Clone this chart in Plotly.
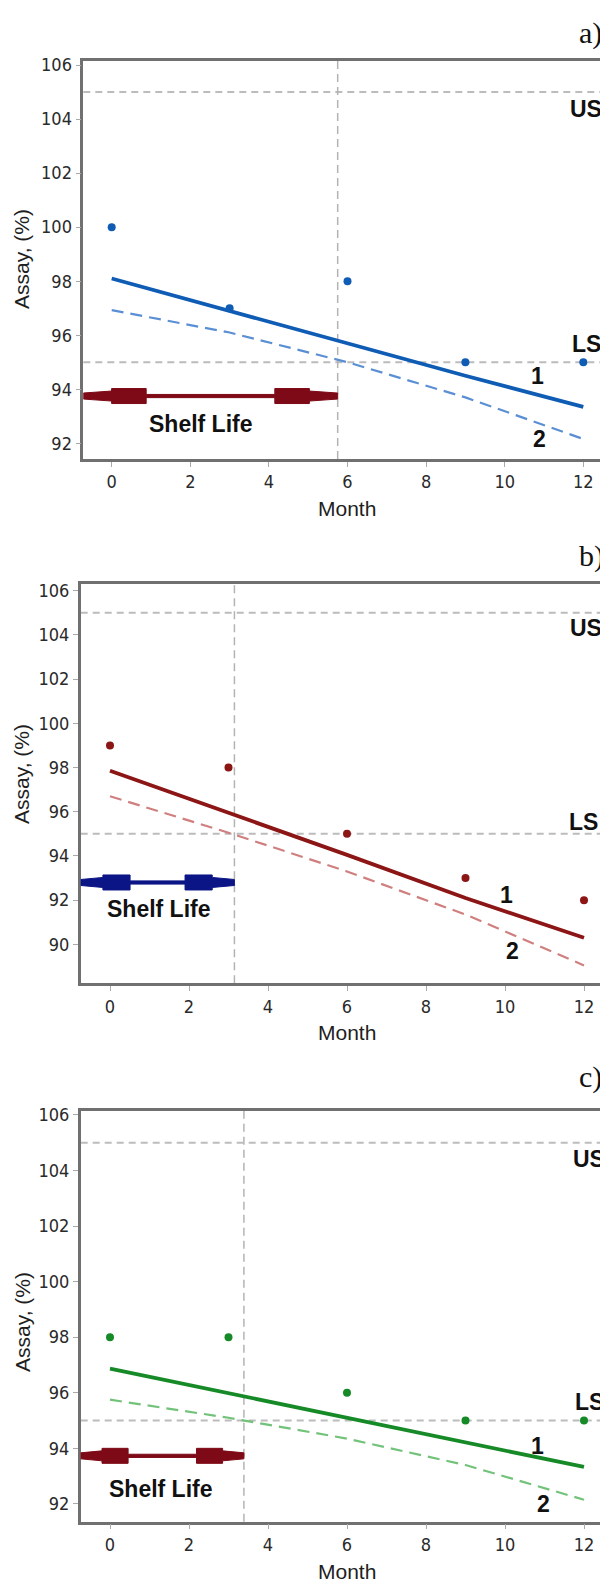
import plotly.graph_objects as go

# ---------------- data ----------------
months = [0, 3, 6, 9, 12]
assay_a = [100, 97, 98, 95, 95]
assay_b = [99, 98, 95, 93, 92]
assay_c = [98, 98, 96, 95, 95]

fit_a = [98.1, 96.9, 95.7, 94.5, 93.35]
fit_b = [97.85, 95.95, 94.05, 92.1, 90.3]
fit_c = [96.87, 95.98, 95.1, 94.2, 93.33]

lower_a = [96.93, 96.1, 95.0, 93.7, 92.16]
lower_b = [96.7, 95.05, 93.3, 91.35, 89.05]
lower_c = [95.75, 95.1, 94.35, 93.4, 92.15]

shelf_life = [5.75, 3.15, 3.39]
upper_spec = 105
lower_spec = 95

x_ticks = [0, 2, 4, 6, 8, 10, 12]
y_ticks_a = [92, 94, 96, 98, 100, 102, 104, 106]
y_ticks_b = [90, 92, 94, 96, 98, 100, 102, 104, 106]
y_ticks_c = [92, 94, 96, 98, 100, 102, 104, 106]
panel_labels = ["a)", "b)", "c)"]

# ---------------- styles / layout ----------------
PAGE_W, PAGE_H = 608, 1582
OFF = 8                      # default body margin of the html page
W, H = PAGE_W - OFF, PAGE_H - OFF

def px_x(p):
    return (p - OFF) / W

def px_y(p):
    return 1 - (p - OFF) / H

def xrange_from(left_px, zero_px, ppu):
    return [(left_px - zero_px) / ppu, (PAGE_W - zero_px) / ppu]

panels = [
    dict(assay=assay_a, fit=fit_a, lower=lower_a, yt=y_ticks_a, sl=shelf_life[0],
         color="#0f5cb5", dcolor="#5a8fd4", acolor="#7d0a16",
         left=83.3, top=60.7, bottom=459, xr=xrange_from(83.3, 111.7, 39.3),
         yr=[91.42, 106.16],
         arrow_y=93.75, head=1.6, sl_txt=(2.28, 92.72),
         us=(12.06, 104.39), ls=(12.08, 95.67), one=(10.84, 94.48), two=(10.89, 92.16),
         lab_y=33, assay_y=259, month_y=508),
    dict(assay=assay_b, fit=fit_b, lower=lower_b, yt=y_ticks_b, sl=shelf_life[1],
         color="#8c1616", dcolor="#d07f7f", acolor="#0b1585",
         left=80.7, top=584, bottom=983.3, xr=xrange_from(80.7, 110.0, 39.5),
         yr=[88.24, 106.3],
         arrow_y=92.8, head=1.25, sl_txt=(1.25, 91.6),
         us=(12.06, 104.3), ls=(11.98, 95.55), one=(10.05, 92.23), two=(10.18, 89.7),
         lab_y=556, assay_y=774, month_y=1032),
    dict(assay=assay_c, fit=fit_c, lower=lower_c, yt=y_ticks_c, sl=shelf_life[2],
         color="#178a28", dcolor="#72c27a", acolor="#7d0a16",
         left=80.7, top=1110.7, bottom=1521.7, xr=xrange_from(80.7, 110.0, 39.5),
         yr=[91.36, 106.15],
         arrow_y=93.73, head=1.2, sl_txt=(1.29, 92.55),
         us=(12.12, 104.43), ls=(12.15, 95.67), one=(10.83, 94.1), two=(10.98, 92.0),
         lab_y=1077, assay_y=1322, month_y=1571),
]

tick_font = dict(family="Liberation Sans Narrow, DejaVu Sans Condensed, Arial Narrow, sans-serif",
                 size=18, color="#2a2a2a")
lbl_font = dict(family="Liberation Sans, Arial, sans-serif", size=23, color="#111111")

fig = go.Figure()
shapes = []
annotations = []
layout = {}

for i, p in enumerate(panels):
    n = "" if i == 0 else str(i + 1)
    xa, ya = "x" + n, "y" + n
    # data points
    fig.add_trace(go.Scatter(x=months, y=p["assay"], mode="markers",
                             marker=dict(size=8, color=p["color"]),
                             xaxis=xa, yaxis=ya, showlegend=False))
    # fitted line (1)
    fig.add_trace(go.Scatter(x=months, y=p["fit"], mode="lines",
                             line=dict(color=p["color"], width=3.8),
                             xaxis=xa, yaxis=ya, showlegend=False))
    # lower confidence bound (2)
    fig.add_trace(go.Scatter(x=months, y=p["lower"], mode="lines",
                             line=dict(color=p["dcolor"], width=2.2, dash="12px,7px"),
                             xaxis=xa, yaxis=ya, showlegend=False))

    layout["xaxis" + n] = dict(domain=[px_x(p["left"]), 1], range=p["xr"], anchor=ya,
                               tickvals=x_ticks, ticks="outside", ticklen=5, tickwidth=1,
                               tickcolor="#aaaaaa", showline=True, linecolor="#707070",
                               linewidth=2.5, mirror=True, showgrid=False, zeroline=False,
                               tickfont=tick_font, automargin=False)
    layout["yaxis" + n] = dict(domain=[px_y(p["bottom"]), px_y(p["top"])], range=p["yr"],
                               anchor=xa, tickvals=p["yt"], ticks="outside", ticklen=5,
                               tickwidth=1, tickcolor="#aaaaaa", showline=True,
                               linecolor="#707070", linewidth=2.5, showgrid=False,
                               zeroline=False, tickfont=tick_font, automargin=False)

    # spec lines
    for spec in (upper_spec, lower_spec):
        shapes.append(dict(type="line", xref=xa + " domain", yref=ya, x0=0, x1=1,
                           y0=spec, y1=spec,
                           line=dict(color="#bcbcbc", width=2, dash="7px,5px"), layer="below"))
    # shelf-life vertical line
    shapes.append(dict(type="line", xref=xa, yref=ya + " domain", x0=p["sl"], x1=p["sl"],
                       y0=0, y1=1, line=dict(color="#b3b3b3", width=1.5, dash="8px,5px"),
                       layer="below"))
    # shelf-life double arrow
    x0, x1, L = p["xr"][0], p["sl"], p["head"]
    pts = [(x0, -3), (x0 + 0.45 * L, -5), (x0 + 0.45 * L, -7.5), (x0 + L, -7.5), (x0 + L, -1.6),
           (x1 - L, -1.6), (x1 - L, -7.5), (x1 - 0.45 * L, -7.5), (x1 - 0.45 * L, -5), (x1, -3)]
    pts = pts + [(x, -y) for (x, y) in reversed(pts)]
    path = "M " + " L ".join(f"{x:.4f},{y:.2f}" for x, y in pts) + " Z"
    shapes.append(dict(type="path", xref=xa, yref=ya, ysizemode="pixel", yanchor=p["arrow_y"],
                       path=path, fillcolor=p["acolor"], line=dict(color=p["acolor"], width=1)))

    # text labels
    for txt, (tx, ty) in (("Shelf Life", p["sl_txt"]), ("US", p["us"]), ("LS", p["ls"]),
                          ("1", p["one"]), ("2", p["two"])):
        annotations.append(dict(x=tx, y=ty, xref=xa, yref=ya, text="<b>" + txt + "</b>",
                                showarrow=False, font=lbl_font, xanchor="center", yanchor="middle"))
    # panel label
    annotations.append(dict(x=px_x(577), y=px_y(p["lab_y"]), xref="paper", yref="paper",
                            text=panel_labels[i], showarrow=False, xanchor="left", yanchor="middle",
                            font=dict(family="Liberation Serif, Times New Roman, serif", size=30,
                                      color="#111111")))
    # axis titles
    annotations.append(dict(x=px_x(347), y=px_y(p["month_y"]), xref="paper", yref="paper",
                            text="Month", showarrow=False, xanchor="center", yanchor="middle",
                            font=dict(family="Liberation Sans, Arial, sans-serif", size=21,
                                      color="#1e1e1e")))
    annotations.append(dict(x=px_x(22), y=px_y(p["assay_y"]), xref="paper", yref="paper",
                            text="Assay, (%)", showarrow=False, textangle=-90,
                            xanchor="center", yanchor="middle",
                            font=dict(family="Liberation Sans, Arial, sans-serif", size=21,
                                      color="#1e1e1e")))

fig.update_layout(width=W, height=H, margin=dict(l=0, r=0, t=0, b=0),
                  paper_bgcolor="white", plot_bgcolor="white",
                  shapes=shapes, annotations=annotations, **layout)

fig.write_html("out.html")
